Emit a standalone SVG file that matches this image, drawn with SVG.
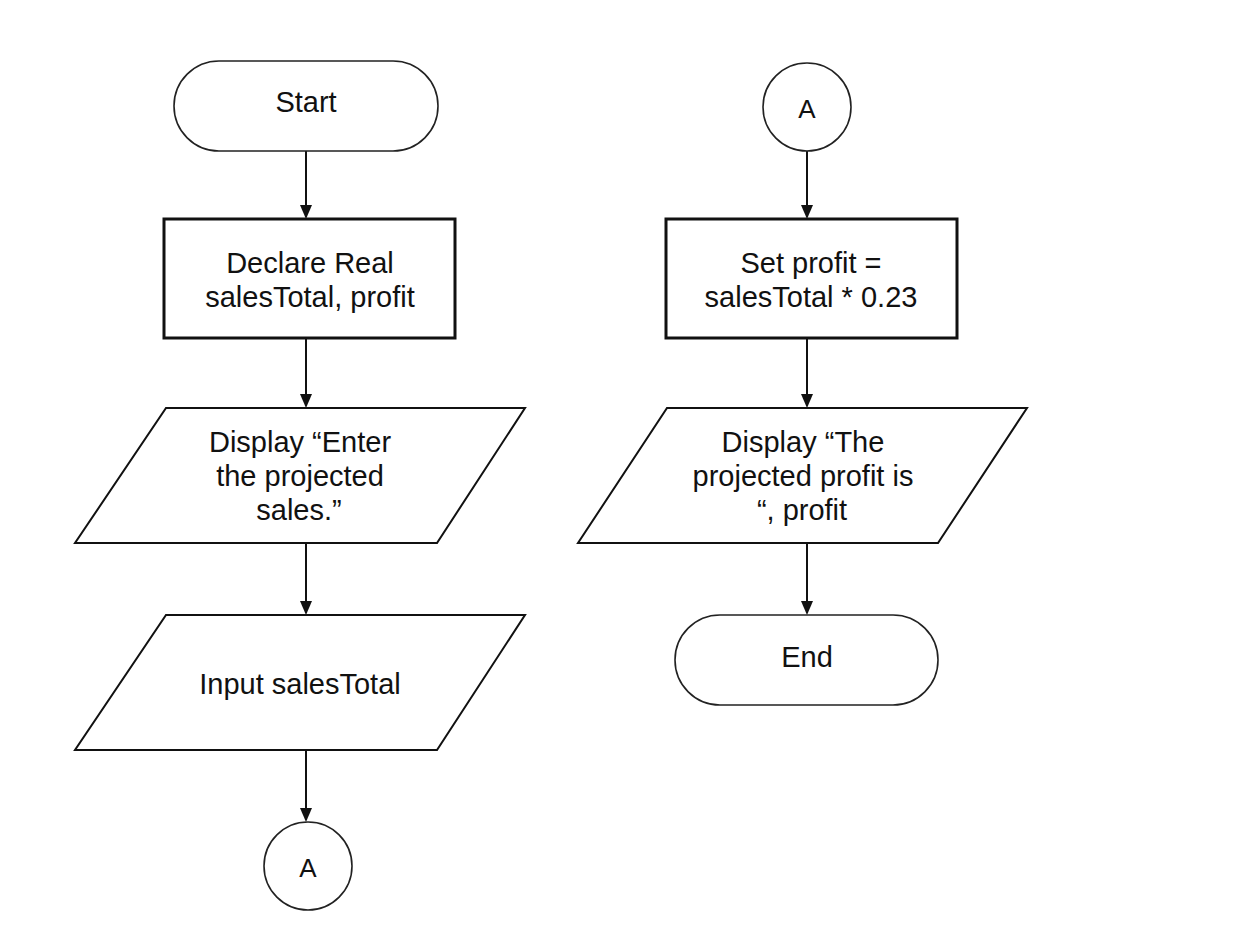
<svg xmlns="http://www.w3.org/2000/svg" width="1248" height="930" viewBox="0 0 1248 930">
<style>
.t{font-family:"Liberation Sans",Arial,sans-serif;font-size:29px;fill:#111;text-anchor:middle}
.a{font-size:26px}
.term{fill:#fff;stroke:#222;stroke-width:1.6}
.proc{fill:#fff;stroke:#111;stroke-width:3}
.io{fill:#fff;stroke:#111;stroke-width:2}
.conn{fill:#fff;stroke:#222;stroke-width:1.6}
.edge{stroke:#111;stroke-width:2;fill:none}
.head{fill:#111}
</style>
<rect width="1248" height="930" fill="#fff"/>
<g id="connectors">
<path class="edge" d="M306,151 V208"/>
<path class="edge" d="M306,338 V397"/>
<path class="edge" d="M306,543 V604"/>
<path class="edge" d="M306,750 V811"/>
<path class="edge" d="M807,151 V208"/>
<path class="edge" d="M807,338 V397"/>
<path class="edge" d="M807,543 V604"/>
<path class="head" d="M300,205 L312,205 L306,219 Z"/>
<path class="head" d="M300,394 L312,394 L306,408 Z"/>
<path class="head" d="M300,601 L312,601 L306,615 Z"/>
<path class="head" d="M300,808 L312,808 L306,822 Z"/>
<path class="head" d="M801,205 L813,205 L807,219 Z"/>
<path class="head" d="M801,394 L813,394 L807,408 Z"/>
<path class="head" d="M801,601 L813,601 L807,615 Z"/>
</g>
<g id="start">
<rect class="term" x="174" y="61" width="264" height="90" rx="45" ry="45"/>
<text class="t" x="306" y="112">Start</text>
</g>
<g id="declare">
<rect class="proc" x="164" y="219" width="291" height="119"/>
<text class="t" x="310" y="273">Declare Real</text>
<text class="t" x="310" y="307">salesTotal, profit</text>
</g>
<g id="display1">
<polygon class="io" points="166,408 525,408 437,543 75,543"/>
<text class="t" x="300" y="452">Display “Enter</text>
<text class="t" x="300" y="486">the projected</text>
<text class="t" x="299" y="520">sales.”</text>
</g>
<g id="input">
<polygon class="io" points="166,615 525,615 437,750 75,750"/>
<text class="t" x="300" y="694">Input salesTotal</text>
</g>
<g id="connA1">
<circle class="conn" cx="308" cy="866" r="44"/>
<text class="t a" x="308" y="877">A</text>
</g>
<g id="connA2">
<circle class="conn" cx="807" cy="107" r="44"/>
<text class="t a" x="807" y="118">A</text>
</g>
<g id="setprofit">
<rect class="proc" x="666" y="219" width="291" height="119"/>
<text class="t" x="811" y="273">Set profit =</text>
<text class="t" x="811" y="307">salesTotal * 0.23</text>
</g>
<g id="display2">
<polygon class="io" points="667,408 1027,408 938,543 578,543"/>
<text class="t" x="803" y="452">Display “The</text>
<text class="t" x="803" y="486">projected profit is</text>
<text class="t" x="802" y="520">“, profit</text>
</g>
<g id="end">
<rect class="term" x="675" y="615" width="263" height="90" rx="45" ry="45"/>
<text class="t" x="807" y="667">End</text>
</g>
</svg>
